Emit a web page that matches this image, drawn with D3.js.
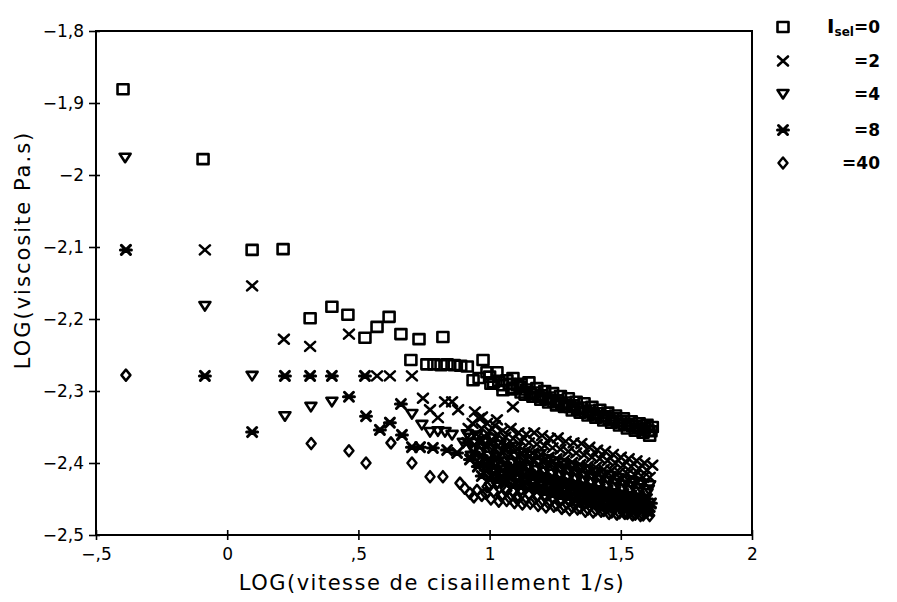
<!DOCTYPE html>
<html>
<head>
<meta charset="utf-8">
<script src="https://cdn.jsdelivr.net/npm/d3@7"></script>
<style>
  html, body { margin: 0; padding: 0; background: #fff; }
  svg { display: block; }
  text { font-family: "DejaVu Sans", sans-serif; fill: #000; }
</style>
</head>
<body>
<svg id="chart" width="897" height="602"></svg>
<script>
// Axis ticks and labels (decimal comma, as printed)
const xTickValues = [-0.5, 0, 0.5, 1, 1.5, 2];
const xTickLabels = ["\u2212,5", "0", ",5", "1", "1,5", "2"];
const yTickValues = [-1.8, -1.9, -2.0, -2.1, -2.2, -2.3, -2.4, -2.5];
const yTickLabels = ["\u22121,8", "\u22121,9", "\u22122", "\u22122,1", "\u22122,2", "\u22122,3", "\u22122,4", "\u22122,5"];

// Ionic strength levels shown in the legend
const selLevels = ["0", "2", "4", "8", "40"];
const selMarkers = ["square", "cross", "triangle", "star", "diamond"];

// [LOG shear rate, LOG viscosity] for each ionic strength
const sel0Points = [
  [-0.397,-1.881],[-0.092,-1.978],[0.095,-2.104],[0.213,-2.103],[0.316,-2.199],[0.399,-2.183],
  [0.460,-2.194],[0.525,-2.226],[0.571,-2.211],[0.617,-2.197],[0.662,-2.221],[0.700,-2.257],
  [0.731,-2.228],[0.822,-2.225],[0.761,-2.263],[0.788,-2.263],[0.815,-2.264],[0.838,-2.263],
  [0.865,-2.264],[0.890,-2.265],[0.915,-2.266],
  [0.975,-2.257],[0.990,-2.274],[1.028,-2.274],[1.066,-2.285],[1.089,-2.282],[1.120,-2.290],
  [1.150,-2.288],[1.180,-2.296],[1.210,-2.300],[1.240,-2.303],[1.270,-2.307],[1.300,-2.310],
  [1.330,-2.315],[1.360,-2.317],[1.390,-2.322],[1.420,-2.326],[1.450,-2.330],[1.480,-2.334],
  [1.510,-2.338],[1.540,-2.342],[1.570,-2.345],[1.600,-2.347],[1.620,-2.350],
  [0.937,-2.285],[0.960,-2.282],[1.005,-2.290],[1.051,-2.299],[1.089,-2.296],[1.116,-2.294],
  [1.135,-2.305],[1.165,-2.308],[1.195,-2.312],[1.225,-2.316],[1.255,-2.320],[1.285,-2.322],
  [1.315,-2.327],[1.345,-2.330],[1.375,-2.334],[1.405,-2.337],[1.435,-2.341],[1.465,-2.344],
  [1.495,-2.348],[1.525,-2.352],[1.555,-2.355],[1.585,-2.358],[1.610,-2.362],
  [1.000,-2.280],[1.035,-2.286],[1.075,-2.290],[1.105,-2.292],[1.140,-2.298],[1.170,-2.302],
  [1.200,-2.306],[1.230,-2.309],[1.260,-2.313],[1.290,-2.316],[1.320,-2.320],[1.350,-2.323],
  [1.380,-2.327],[1.410,-2.331],[1.440,-2.335],[1.470,-2.338],[1.500,-2.342],[1.530,-2.346],
  [1.560,-2.349],[1.590,-2.352],[1.615,-2.356],
  [1.015,-2.288],[1.050,-2.292],[1.085,-2.298],[1.120,-2.302],[1.155,-2.304],[1.185,-2.308],
  [1.215,-2.311],[1.245,-2.315],[1.275,-2.318],[1.305,-2.322],[1.335,-2.325],[1.365,-2.329],
  [1.395,-2.332],[1.425,-2.335],[1.455,-2.339],[1.485,-2.342],[1.515,-2.346],[1.545,-2.349],
  [1.575,-2.352],[1.605,-2.355]
];
const sel2Points = [
  [-0.085,-2.104],[0.095,-2.154],[0.216,-2.228],[0.316,-2.238],[0.464,-2.221],[0.571,-2.279],
  [0.620,-2.279],[0.704,-2.279],[0.746,-2.310],[0.773,-2.326],[0.803,-2.337],[0.830,-2.315],
  [0.857,-2.315],[0.880,-2.326],[0.944,-2.329],[0.971,-2.336],[1.028,-2.340],[1.089,-2.322],
  [0.960,-2.338],[0.990,-2.345],[1.020,-2.348],[1.050,-2.355],[1.080,-2.352],[1.110,-2.358],
  [1.140,-2.360],[1.170,-2.358],[1.200,-2.362],[1.230,-2.366],[1.260,-2.365],[1.290,-2.370],
  [1.320,-2.372],[1.350,-2.373],[1.380,-2.378],[1.410,-2.382],[1.440,-2.384],[1.470,-2.388],
  [1.500,-2.392],[1.530,-2.394],[1.560,-2.397],[1.590,-2.400],[1.620,-2.403],
  [0.920,-2.352],[0.950,-2.360],[0.985,-2.365],[1.015,-2.370],[1.045,-2.372],[1.075,-2.378],
  [1.105,-2.380],[1.135,-2.384],[1.165,-2.386],[1.195,-2.388],[1.225,-2.392],[1.255,-2.394],
  [1.285,-2.396],[1.315,-2.399],[1.345,-2.402],[1.375,-2.404],[1.405,-2.406],[1.435,-2.409],
  [1.465,-2.410],[1.495,-2.413],[1.525,-2.415],[1.555,-2.417],[1.585,-2.420],[1.610,-2.420],
  [0.935,-2.345],[0.970,-2.352],[1.000,-2.356],[1.030,-2.360],[1.060,-2.364],[1.090,-2.366],
  [1.120,-2.370],[1.150,-2.372],[1.180,-2.374],[1.210,-2.376],[1.240,-2.379],[1.270,-2.381],
  [1.300,-2.384],[1.330,-2.386],[1.360,-2.389],[1.390,-2.392],[1.420,-2.394],[1.450,-2.397],
  [1.480,-2.400],[1.510,-2.403],[1.540,-2.405],[1.570,-2.408],[1.600,-2.410],
  [0.955,-2.370],[0.990,-2.375],[1.020,-2.380],[1.050,-2.384],[1.080,-2.388],[1.110,-2.390],
  [1.140,-2.394],[1.170,-2.396],[1.200,-2.398],[1.230,-2.401],[1.260,-2.403],[1.290,-2.405],
  [1.320,-2.408],[1.350,-2.410],[1.380,-2.413],[1.410,-2.415],[1.440,-2.417],[1.470,-2.420],
  [1.500,-2.422],[1.530,-2.424],[1.560,-2.426],[1.590,-2.428]
];
const sel4Points = [
  [-0.389,-1.976],[-0.085,-2.182],[0.095,-2.279],[0.220,-2.335],[0.319,-2.322],[0.399,-2.315],
  [0.704,-2.332],[0.742,-2.347],[0.773,-2.357],[0.803,-2.356],[0.830,-2.357],[0.857,-2.361],
  [0.925,-2.365],
  [0.950,-2.362],[0.980,-2.370],[1.010,-2.366],[1.040,-2.375],[1.070,-2.380],[1.100,-2.378],
  [1.130,-2.386],[1.160,-2.390],[1.190,-2.388],[1.220,-2.395],[1.250,-2.398],[1.280,-2.400],
  [1.310,-2.404],[1.340,-2.407],[1.370,-2.410],[1.400,-2.413],[1.430,-2.416],[1.460,-2.418],
  [1.490,-2.421],[1.520,-2.424],[1.550,-2.426],[1.580,-2.429],[1.610,-2.431],
  [0.900,-2.372],[0.935,-2.380],[0.965,-2.385],[0.995,-2.390],[1.025,-2.392],[1.055,-2.398],
  [1.085,-2.400],[1.115,-2.404],[1.145,-2.406],[1.175,-2.410],[1.205,-2.412],[1.235,-2.415],
  [1.265,-2.417],[1.295,-2.420],[1.325,-2.422],[1.355,-2.425],[1.385,-2.427],[1.415,-2.430],
  [1.445,-2.432],[1.475,-2.434],[1.505,-2.436],[1.535,-2.438],[1.565,-2.440],[1.600,-2.442],
  [0.915,-2.360],[0.945,-2.372],[0.975,-2.378],[1.005,-2.380],[1.035,-2.384],[1.065,-2.389],
  [1.095,-2.391],[1.125,-2.395],[1.155,-2.398],[1.185,-2.400],[1.215,-2.404],[1.245,-2.406],
  [1.275,-2.410],[1.305,-2.412],[1.335,-2.415],[1.365,-2.418],[1.395,-2.420],[1.425,-2.423],
  [1.455,-2.425],[1.485,-2.428],[1.515,-2.430],[1.545,-2.432],[1.575,-2.435],[1.605,-2.437],
  [0.930,-2.390],[0.960,-2.396],[0.990,-2.400],[1.020,-2.402],[1.050,-2.406],[1.080,-2.410],
  [1.110,-2.412],[1.140,-2.416],[1.170,-2.418],[1.200,-2.420],[1.230,-2.424],[1.260,-2.426],
  [1.290,-2.428],[1.320,-2.431],[1.350,-2.433],[1.380,-2.436],[1.410,-2.438],[1.440,-2.440],
  [1.470,-2.442],[1.500,-2.444],[1.530,-2.446],[1.560,-2.448],[1.590,-2.450]
];
const sel8Points = [
  [-0.386,-2.104],[-0.085,-2.279],[0.095,-2.357],[0.220,-2.279],[0.316,-2.279],[0.399,-2.279],
  [0.464,-2.308],[0.525,-2.279],[0.529,-2.335],[0.582,-2.354],[0.620,-2.344],[0.662,-2.318],
  [0.666,-2.361],[0.704,-2.378],[0.735,-2.378],[0.784,-2.379],[0.838,-2.382],[0.876,-2.386],
  [0.914,-2.372],
  [0.940,-2.385],[0.970,-2.390],[1.000,-2.395],[1.030,-2.393],[1.060,-2.400],[1.090,-2.405],
  [1.120,-2.403],[1.150,-2.410],[1.180,-2.414],[1.210,-2.416],[1.240,-2.420],[1.270,-2.422],
  [1.300,-2.425],[1.330,-2.428],[1.360,-2.430],[1.390,-2.433],[1.420,-2.436],[1.450,-2.438],
  [1.480,-2.440],[1.510,-2.443],[1.540,-2.445],[1.570,-2.447],[1.600,-2.450],
  [0.955,-2.405],[0.985,-2.410],[1.015,-2.414],[1.045,-2.418],[1.075,-2.420],[1.105,-2.424],
  [1.135,-2.426],[1.165,-2.430],[1.195,-2.432],[1.225,-2.435],[1.255,-2.437],[1.285,-2.440],
  [1.315,-2.442],[1.345,-2.444],[1.375,-2.446],[1.405,-2.448],[1.435,-2.450],[1.465,-2.452],
  [1.495,-2.454],[1.525,-2.456],[1.555,-2.458],[1.585,-2.460],[1.610,-2.461],
  [0.925,-2.395],[0.960,-2.400],[0.990,-2.403],[1.020,-2.405],[1.050,-2.410],[1.080,-2.412],
  [1.110,-2.415],[1.140,-2.418],[1.170,-2.420],[1.200,-2.424],[1.230,-2.427],[1.260,-2.430],
  [1.290,-2.432],[1.320,-2.435],[1.350,-2.437],[1.380,-2.440],[1.410,-2.442],[1.440,-2.444],
  [1.470,-2.446],[1.500,-2.449],[1.530,-2.450],[1.560,-2.452],[1.590,-2.455],[1.615,-2.456],
  [0.970,-2.418],[1.000,-2.422],[1.030,-2.425],[1.060,-2.428],[1.090,-2.432],[1.120,-2.434],
  [1.150,-2.437],[1.180,-2.440],[1.210,-2.442],[1.240,-2.445],[1.270,-2.447],[1.300,-2.449],
  [1.330,-2.452],[1.360,-2.454],[1.390,-2.456],[1.420,-2.458],[1.450,-2.460],[1.480,-2.462],
  [1.510,-2.463],[1.540,-2.465],[1.570,-2.466],[1.600,-2.467]
];
const sel40Points = [
  [-0.386,-2.278],[0.320,-2.373],[0.464,-2.383],[0.529,-2.400],[0.624,-2.372],[0.704,-2.400],
  [0.773,-2.419],[0.822,-2.419],[0.887,-2.428],[0.925,-2.442],[0.952,-2.438],[0.990,-2.433],
  [1.028,-2.428],[1.066,-2.438],[1.104,-2.447],
  [1.000,-2.430],[1.030,-2.427],[1.060,-2.435],[1.090,-2.440],[1.120,-2.437],[1.150,-2.443],
  [1.180,-2.446],[1.210,-2.444],[1.240,-2.449],[1.270,-2.452],[1.300,-2.450],[1.330,-2.455],
  [1.360,-2.457],[1.390,-2.455],[1.420,-2.460],[1.450,-2.462],[1.480,-2.460],[1.510,-2.464],
  [1.540,-2.466],[1.570,-2.465],[1.600,-2.468],
  [0.940,-2.447],[0.970,-2.445],[1.005,-2.450],[1.035,-2.453],[1.065,-2.452],[1.095,-2.455],
  [1.125,-2.457],[1.155,-2.456],[1.185,-2.459],[1.215,-2.461],[1.245,-2.460],[1.275,-2.463],
  [1.305,-2.465],[1.335,-2.464],[1.365,-2.467],[1.395,-2.468],[1.425,-2.467],[1.455,-2.470],
  [1.485,-2.471],[1.515,-2.470],[1.545,-2.472],[1.575,-2.473],[1.610,-2.473],
  [0.905,-2.435],[0.985,-2.442],[1.015,-2.440],[1.045,-2.446],[1.075,-2.448],[1.105,-2.450],
  [1.135,-2.452],[1.165,-2.452],[1.195,-2.455],[1.225,-2.456],[1.255,-2.458],[1.285,-2.460],
  [1.315,-2.461],[1.345,-2.462],[1.375,-2.464],[1.405,-2.465],[1.435,-2.466],[1.465,-2.468],
  [1.495,-2.469],[1.525,-2.470],[1.555,-2.471],[1.585,-2.472]
];
const seriesPoints = [sel0Points, sel2Points, sel4Points, sel8Points, sel40Points];

// Plot frame
const plotLeft = 96, plotRight = 752, plotTop = 31, plotBottom = 535;
const x = d3.scaleLinear().domain([-0.5, 2]).range([plotLeft, plotRight]);
const y = d3.scaleLinear().domain([-1.8, -2.5]).range([plotTop, plotBottom]);

const svg = d3.select("#chart");
svg.append("rect").attr("width", 897).attr("height", 602).attr("fill", "#fff");

// Marker outlines, drawn with a heavy pen
const markerPath = {
  square:   "M-5.5,-5H5.5V5H-5.5Z",
  cross:    "M-5,-4.5L5,4.5M-5,4.5L5,-4.5",
  triangle: "M-5.5,-4H5.5L0,4.5Z",
  star:     "M-4.5,-4.5L4.5,4.5M-4.5,4.5L4.5,-4.5M-5.5,0H5.5",
  diamond:  "M0,-5.5L4.5,0L0,5.5L-4.5,0Z"
};
const markerWidth = { square: 2.6, cross: 2.6, triangle: 2.6, star: 3, diamond: 2.5 };

function drawMarker(g, type) {
  g.append("path")
    .attr("d", markerPath[type])
    .attr("fill", "none")
    .attr("stroke", "#000")
    .attr("stroke-width", markerWidth[type])
    .attr("stroke-linejoin", "round")
    .attr("stroke-linecap", "round");
}

// Axes
const xAxis = d3.axisBottom(x)
  .tickValues(xTickValues)
  .tickFormat((d, i) => xTickLabels[i])
  .tickSize(5).tickPadding(8);
const gx = svg.append("g").attr("transform", `translate(0,${plotBottom})`).call(xAxis);
gx.select(".domain").remove();
gx.selectAll(".tick line").attr("y1", -5).attr("y2", 5).attr("stroke", "#000").attr("stroke-width", 1.6);
gx.selectAll(".tick text").attr("font-size", 17).attr("font-family", "DejaVu Sans").attr("fill", "#000");

const yAxis = d3.axisLeft(y)
  .tickValues(yTickValues)
  .tickFormat((d, i) => yTickLabels[i])
  .tickSize(6).tickPadding(6);
const gy = svg.append("g").attr("transform", `translate(${plotLeft},0)`).call(yAxis);
gy.select(".domain").remove();
gy.selectAll(".tick line").attr("x1", -7).attr("x2", 4).attr("stroke", "#000").attr("stroke-width", 1.6);
gy.selectAll(".tick text").attr("font-size", 17).attr("font-family", "DejaVu Sans").attr("fill", "#000");

svg.append("rect")
  .attr("x", plotLeft).attr("y", plotTop)
  .attr("width", plotRight - plotLeft).attr("height", plotBottom - plotTop)
  .attr("fill", "none").attr("stroke", "#000").attr("stroke-width", 2);

// Axis titles
svg.append("text")
  .attr("x", 432).attr("y", 590)
  .attr("text-anchor", "middle")
  .attr("font-size", 21).attr("letter-spacing", 1.5)
  .text("LOG(vitesse de cisaillement 1/s)");

svg.append("text")
  .attr("transform", "translate(30,250) rotate(-90)")
  .attr("text-anchor", "middle")
  .attr("font-size", 21).attr("letter-spacing", 2)
  .text("LOG(viscosite Pa.s)");

// Points
seriesPoints.forEach((pts, si) => {
  const g = svg.append("g").attr("class", "series-" + selLevels[si]);
  g.selectAll("g.pt").data(pts).join("g")
    .attr("class", "pt")
    .attr("transform", d => `translate(${x(d[0])},${y(d[1])})`)
    .each(function () { drawMarker(d3.select(this), selMarkers[si]); });
});

// Legend
const legend = svg.append("g");
const legendRows = [27, 61, 94, 130, 163];
selLevels.forEach((lv, i) => {
  const row = legend.append("g").attr("transform", `translate(783,${legendRows[i]})`);
  drawMarker(row, selMarkers[i]);
  const t = legend.append("text")
    .attr("x", 880).attr("y", legendRows[i] + 6)
    .attr("text-anchor", "end")
    .attr("font-size", 17).attr("font-weight", "bold");
  if (i === 0) {
    t.append("tspan").attr("font-size", 20).text("I");
    t.append("tspan").attr("font-size", 12).attr("dy", 3).text("sel");
    t.append("tspan").attr("dy", -3).text("=" + lv);
  } else {
    t.text("=" + lv);
  }
});
</script>
</body>
</html>
